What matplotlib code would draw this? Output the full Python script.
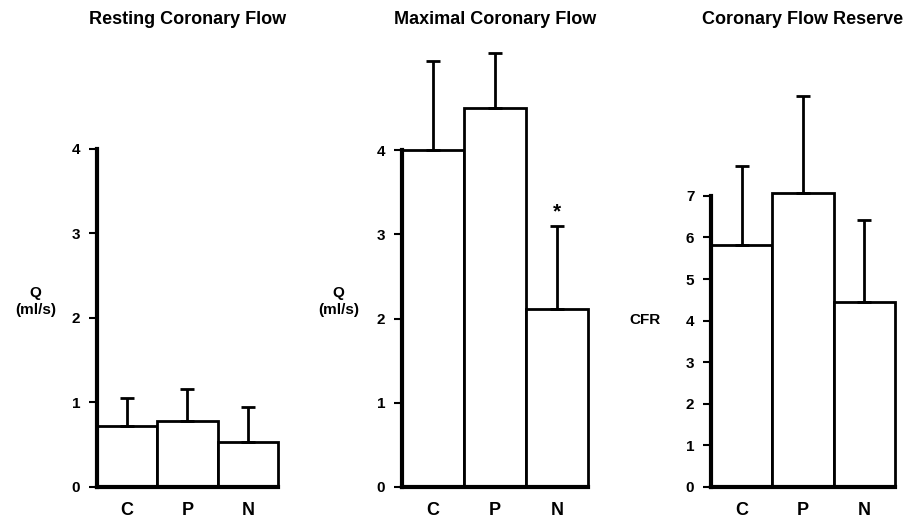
import numpy as np
import matplotlib
matplotlib.use("Agg")
import matplotlib.pyplot as plt

plt.rcParams['font.family'] = ['Liberation Sans', 'DejaVu Sans']
plt.rcParams['font.weight'] = 'bold'

groups = ['C', 'P', 'N']

# Resting coronary flow (ml/s)
rest_mean = [0.72, 0.78, 0.53]
rest_sd = [0.33, 0.38, 0.42]

# Maximal coronary flow (ml/s)
max_mean = [4.0, 4.5, 2.12]
max_sd = [1.06, 0.65, 0.98]

# Coronary flow reserve
cfr_mean = [5.82, 7.06, 4.46]
cfr_sd = [1.89, 2.34, 1.96]

titles = ['Resting Coronary Flow', 'Maximal Coronary Flow', 'Coronary Flow Reserve']
ylabels = ['Q\n(ml/s)', 'Q\n(ml/s)', 'CFR']
yticks = [[0, 1, 2, 3, 4], [0, 1, 2, 3, 4], [0, 1, 2, 3, 4, 5, 6, 7]]
ytops = [5.29, 5.31, 10.75]
label_pos = [(-0.34, 0.415), (-0.34, 0.415), (-0.36, 0.374)]

fig = plt.figure(figsize=(9.08, 5.2), dpi=100)
rects = [[0.1068, 0.0635, 0.1993, 0.8596],
         [0.4427, 0.0635, 0.2048, 0.8596],
         [0.7830, 0.0635, 0.2026, 0.8596]]

data = [(rest_mean, rest_sd), (max_mean, max_sd), (cfr_mean, cfr_sd)]

for i, (means, sds) in enumerate(data):
    ax = fig.add_axes(rects[i])
    x = np.arange(len(groups))
    bars = ax.bar(x, means, width=1.0, color='white', edgecolor='black', linewidth=2, zorder=2)
    for b in bars:
        b.set_clip_on(False)
    ax.errorbar(x, means, yerr=[np.zeros(len(sds)), sds], fmt='none', ecolor='black',
                elinewidth=2, capsize=5, capthick=2, zorder=3, clip_on=False)
    ax.set_xlim(-0.5, 2.5)
    ax.set_ylim(0, ytops[i])
    ax.set_xticks(x)
    ax.set_xticklabels(groups, fontsize=13, fontweight='bold')
    ax.tick_params(axis='x', length=0, pad=11)
    ax.set_yticks(yticks[i])
    ax.set_yticklabels([str(t) for t in yticks[i]], fontsize=11, fontweight='bold')
    ax.tick_params(axis='y', length=6, width=1.5, pad=6)
    for s in ['top', 'right']:
        ax.spines[s].set_visible(False)
    ax.spines['left'].set_linewidth(3)
    ax.spines['bottom'].set_linewidth(3)
    ax.spines['left'].set_bounds(0, yticks[i][-1])
    ax.set_ylabel(ylabels[i], rotation=0, fontsize=11, fontweight='bold',
                  ha='center', va='center', linespacing=1.25)
    ax.yaxis.set_label_coords(*label_pos[i])
    # titles sit near the top edge of the figure (about 20 px down)
    ax.set_title(titles[i], fontsize=13, fontweight='bold',
                 y=(487 - 20) / 447, pad=0, va='center')

# significance marker on N in maximal flow panel
ax2 = fig.axes[1]
ax2.text(2, max_mean[2] + max_sd[2] + 0.05, '*', ha='center', va='bottom',
         fontsize=15, fontweight='bold')

fig.savefig('out.png', dpi=100)
